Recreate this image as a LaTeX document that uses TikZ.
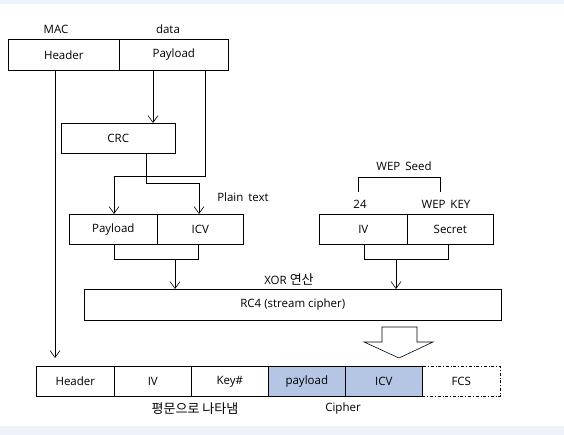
\documentclass[tikz,border=0pt]{standalone}
\usepackage{fontspec}
\setmainfont{Open Sans}
\newfontfamily\krfont{Noto Sans CJK KR}
\usepackage{xcolor}
\usepackage{tikz}
\usetikzlibrary{arrows.meta}
\definecolor{cipherblue}{RGB}{180,198,228}
\definecolor{bandgray}{RGB}{238,242,249}

\begin{document}
\begin{tikzpicture}[x=1pt,y=-1pt,line width=0.6pt,
    font=\fontsize{11.5}{13}\selectfont,
    cell/.style={draw,inner sep=0pt,minimum height=30pt,anchor=north west},
    lbl/.style={inner sep=0pt},
    arr/.style={-{Straight Barb[length=7pt,width=10pt]}}]
    \useasboundingbox (0,0) rectangle (564,435);
    \fill[bandgray] (0,0) rectangle (564,4);
    \fill[bandgray] (0,426) rectangle (564,435);
    % MAC frame
    \node[cell,minimum width=111pt,minimum height=31pt] (mhdr) at (8,39) {Header};
    \node[cell,minimum width=109pt,minimum height=31pt] (mpay) at (119,39) {Payload};
    \node[lbl] (lmac) at (56,29) {MAC};
    \node[lbl] (ldata) at (168,29) {data};
    \node[cell,minimum width=114pt] (crc) at (61,123) {CRC};
    % plain text
    \node[cell,minimum width=88pt] (pay) at (69,214) {Payload};
    \node[cell,minimum width=86pt] (icv) at (157,214) {ICV};
    \node[lbl] (lplain) at (243,197) {Plain\, text};
    % WEP seed
    \node[cell,minimum width=88pt] (iv) at (319,214) {IV};
    \node[cell,minimum width=86pt] (secret) at (407,214) {Secret};
    \node[lbl] (l24) at (360,204) {24};
    \node[lbl] (lkey) at (446,204) {WEP\, KEY};
    \node[lbl] (lseed) at (404,166) {WEP\, Seed};
    \draw (358,192) -- (358,177) -- (440,177) -- (440,192);
    % RC4
    \node[cell,minimum width=417pt,minimum height=31pt] (rc4) at (84,289) {RC4 (stream cipher)};
    \node[lbl] (lxor) at (289,280) {XOR {\krfont\fontsize{13}{14}\selectfont 연산}};
    % encrypted frame
    \node[cell,minimum width=78pt,dash dot] (bfcs) at (422,366) {FCS};
    \node[cell,minimum width=78pt] (bhdr) at (36,366) {Header};
    \node[cell,minimum width=77pt] (biv) at (114,366) {IV};
    \node[cell,minimum width=77pt] (bkey) at (191,366) {Key\#};
    \node[cell,minimum width=77pt,fill=cipherblue] (bpay) at (268,366) {payload};
    \node[cell,minimum width=77pt,fill=cipherblue] (bicv) at (345,366) {ICV};
    \node[lbl] (lplainkr) at (195,409) {\krfont\fontsize{13}{14}\selectfont 평문으로 나타냄};
    \node[lbl] (lcipher) at (343,409) {Cipher};
    % connectors
    \draw[arr] ([xshift=47pt]mhdr.south west) -- ([xshift=19pt,yshift=8pt]bhdr.north west);
    \draw[arr] ([xshift=34pt]mpay.south west) -- ([xshift=92pt]crc.north west);
    \draw[arr] ([xshift=86pt]mpay.south west) -- ++(0,106) -| ([xshift=45pt]pay.north west);
    \draw[arr] ([xshift=85pt]crc.south west) -- ++(0,30) -| ([xshift=42pt]icv.north west);
    \draw ([xshift=45pt]pay.south west) -- ++(0,15) -| ([xshift=41pt]icv.south west);
    \draw[arr] ([xshift=106pt,yshift=-15pt]pay.south west) -- ([xshift=91pt]rc4.north west);
    \draw ([xshift=45pt]iv.south west) -- ++(0,15) -| ([xshift=41pt]secret.south west);
    \draw[arr] ([xshift=77pt,yshift=-15pt]iv.south west) -- ([xshift=312pt]rc4.north west);
    \draw[fill=white] (382,327) -- (417,327) -- (417,342) -- (433,342) -- (399,358)
        -- (364,342) -- (382,342) -- cycle;
\end{tikzpicture}
\end{document}
